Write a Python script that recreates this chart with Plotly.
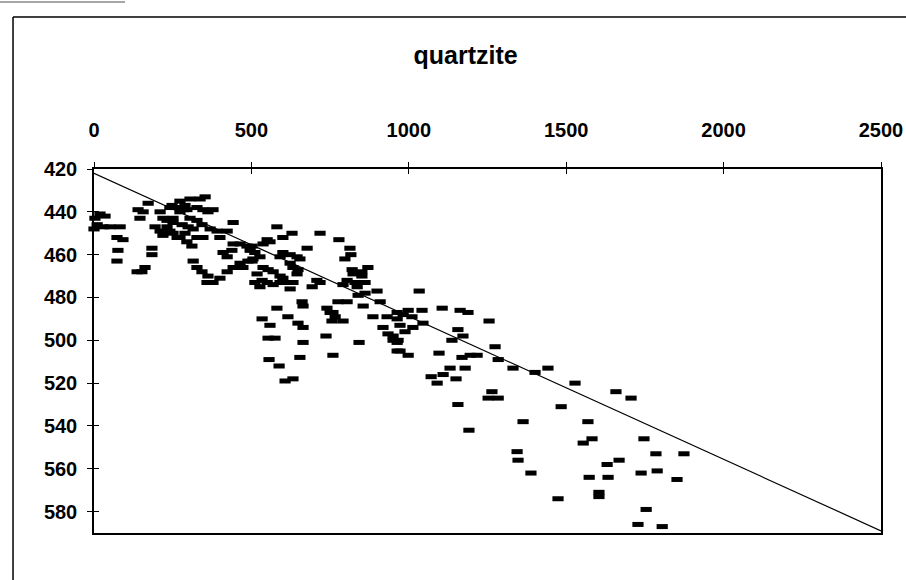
import plotly.graph_objects as go

# ---- data ----
x_vals = [3, 19, 35, 10, 29, 51, 0, 83, 73, 92, 76, 73,
          140, 156, 146, 172, 184, 184, 137, 152, 162, 210, 219, 194, 210,
          232, 248, 251, 251, 241, 257, 273, 273, 289, 295, 283, 305, 337, 353, 327,
          346, 362, 378, 280, 299, 315, 305, 327, 232, 241, 219, 251, 273, 295, 311,
          264, 289, 327, 346, 343, 369, 391, 400, 423, 442, 315, 327, 343, 359, 378,
          400, 423, 442, 464, 410, 423, 438, 442, 464, 486, 489, 362,
          502, 511, 527, 505, 496, 502, 473, 550, 559, 537, 581, 600, 629, 600, 623,
          645, 654, 623, 632, 648, 645, 537, 553, 569, 591, 600, 518, 534, 550, 569,
          591, 613, 632, 527, 511, 623, 591,
          677, 718, 778, 813, 816, 797, 820, 851, 870, 823, 851, 804, 829, 861, 791,
          836, 839, 861, 899, 708, 693, 718, 661, 664, 581, 740, 750, 759, 775, 804,
          766, 756, 791, 855, 909, 616, 534, 559, 648, 664, 886, 931, 963, 918, 934,
          950, 963, 963, 553, 575, 664, 737, 842, 556, 654, 759, 588, 632, 607,
          1033, 998, 1042, 1106, 1163, 1188, 1255, 963, 982, 1010, 972, 1013, 1045,
          950, 966, 988, 972, 998, 1096, 1156, 1172, 1137, 1169, 1195, 1217, 1274,
          1284, 1131, 1179, 1331, 1442, 1071, 1109, 1090, 1150, 1401, 1528, 1658,
          1706, 1264, 1252, 1284, 1156, 1484, 1363, 1569, 1191, 1582, 1554, 1747,
          1785, 1874, 1344, 1347, 1630, 1668, 1388, 1573, 1633, 1738, 1789, 1852,
          1604, 1604, 1474, 1754, 1728, 1805]
y_vals = [443, 441, 442, 446, 447, 447, 448, 447, 452, 453, 458, 463,
          439, 440, 443, 436, 457, 460, 468, 468, 466, 440, 443, 447, 449,
          444, 437, 443, 445, 438, 438, 435, 440, 437, 439, 439, 434, 434, 433, 438,
          439, 440, 439, 446, 447, 448, 443, 444, 447, 449, 451, 450, 452, 454, 456,
          452, 450, 452, 452, 446, 448, 449, 452, 449, 445, 463, 466, 468, 473, 473,
          471, 468, 466, 464, 459, 461, 458, 455, 455, 456, 463, 470,
          456, 459, 461, 462, 458, 463, 466, 453, 454, 455, 447, 452, 450, 459, 460,
          461, 462, 464, 466, 467, 469, 466, 467, 468, 470, 471, 469, 472, 473, 474,
          473, 473, 473, 475, 473, 476, 461,
          457, 450, 453, 457, 460, 462, 467, 468, 466, 469, 470, 472, 473, 473, 474,
          475, 479, 478, 477, 472, 475, 473, 482, 484, 485, 485, 487, 487, 482, 482,
          489, 491, 491, 484, 482, 489, 490, 493, 492, 494, 489, 489, 487, 494, 497,
          500, 501, 505, 499, 499, 501, 498, 501, 509, 508, 507, 512, 518, 519,
          477, 486, 486, 485, 486, 487, 491, 490, 488, 489, 493, 494, 492,
          498, 500, 496, 505, 507, 506, 495, 498, 500, 508, 507, 507, 503,
          509, 513, 513, 513, 513, 517, 516, 520, 518, 515, 520, 524,
          527, 524, 527, 527, 530, 531, 538, 538, 542, 546, 548, 546,
          553, 553, 552, 556, 558, 556, 562, 564, 564, 562, 561, 565,
          571, 573, 574, 579, 586, 587]

line_x = [0, 2500]
line_y = [422, 589]

x_ticks = [0, 500, 1000, 1500, 2000, 2500]
y_ticks = [420, 440, 460, 480, 500, 520, 540, 560, 580]
x_range = [0, 2500]
y_range = [590, 420]
title_text = "quartzite"

FONT = "Liberation Sans, Arial, sans-serif"

fig = go.Figure()
fig.add_trace(go.Scatter(
    x=x_vals, y=y_vals, mode="markers", cliponaxis=False,
    marker=dict(symbol="line-ew", size=8, color="black",
                line=dict(color="black", width=5)),
    showlegend=False, hoverinfo="skip"))
fig.add_trace(go.Scatter(
    x=line_x, y=line_y, mode="lines",
    line=dict(color="black", width=1.2),
    showlegend=False, hoverinfo="skip"))
# invisible trace so the overlay axes (inner half of the cross ticks) are drawn
fig.add_trace(go.Scatter(x=[line_x[0]], y=[line_y[0]], xaxis="x2", yaxis="y2",
                         mode="markers", marker=dict(opacity=0),
                         showlegend=False, hoverinfo="skip"))

tick_font = dict(family=FONT, size=20, color="black", weight="bold")

fig.update_layout(
    width=906, height=580,
    margin=dict(l=94, r=25, t=169, b=47, autoexpand=False),
    paper_bgcolor="white", plot_bgcolor="white",
    title=dict(text=title_text, x=0.514, xref="container", xanchor="center",
               y=0.905, yref="container", yanchor="middle",
               font=dict(family=FONT, size=25, color="black", weight="bold")),
    xaxis=dict(range=x_range, side="top", tickmode="array", tickvals=x_ticks,
               ticks="outside", ticklen=5, tickwidth=1.2, tickcolor="black",
               showline=True, linecolor="black", linewidth=1.5, mirror=True,
               showgrid=False, zeroline=False, tickfont=tick_font,
               ticklabelstandoff=17, automargin=False),
    yaxis=dict(range=y_range, tickmode="array", tickvals=y_ticks,
               ticks="outside", ticklen=5, tickwidth=1.2, tickcolor="black",
               showline=True, linecolor="black", linewidth=1.5, mirror=True,
               showgrid=False, zeroline=False, tickfont=tick_font,
               ticklabelstandoff=6, automargin=False),
    xaxis2=dict(range=x_range, overlaying="x", side="top", tickmode="array",
                tickvals=x_ticks, ticks="inside", ticklen=5, tickwidth=1.2,
                tickcolor="black", showticklabels=False, showgrid=False,
                zeroline=False, showline=False),
    yaxis2=dict(range=y_range, overlaying="y", side="left", tickmode="array",
                tickvals=y_ticks, ticks="inside", ticklen=5, tickwidth=1.2,
                tickcolor="black", showticklabels=False, showgrid=False,
                zeroline=False, showline=False),
    shapes=[
        dict(type="line", xref="paper", yref="paper", x0=-0.1029, x1=1.04,
             y0=1.4176, y1=1.4176, line=dict(color="black", width=1.5)),
        dict(type="line", xref="paper", yref="paper", x0=-0.1029, x1=-0.1029,
             y0=1.4176, y1=-0.14, line=dict(color="black", width=1.5)),
        dict(type="line", xref="paper", yref="paper", x0=-0.125, x1=0.0394,
             y0=1.4588, y1=1.4588, line=dict(color="#888888", width=1.5)),
    ],
)

fig.write_html("out.html")
